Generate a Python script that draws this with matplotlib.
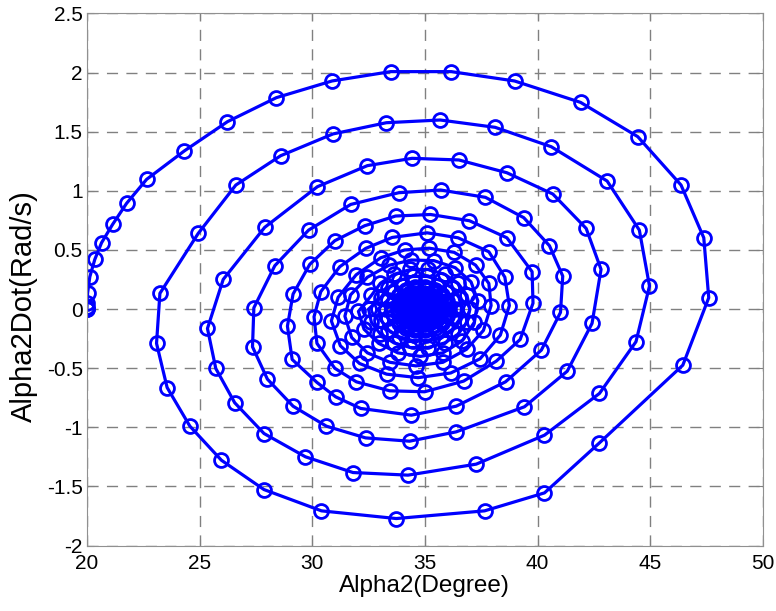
import matplotlib.pyplot as plt
from matplotlib.ticker import MultipleLocator, FuncFormatter

plt.rcParams['font.family'] = ['Liberation Sans', 'DejaVu Sans']

# phase trajectory, loop by loop (clockwise, spiralling in)
alpha_outer = [20.0, 20.0, 20.0, 20.01, 20.03, 20.13, 20.35, 20.65, 21.14, 21.76, 22.65, 24.32,
               26.24, 28.41, 30.88, 33.48, 36.17, 38.98, 41.91, 44.45, 46.37, 47.38, 47.60,
               46.45, 42.75, 40.31, 37.65, 33.73, 30.41, 27.86, 25.97, 24.57, 23.56, 23.09]
rate_outer = [0.0, 0.0, 0.02, 0.055, 0.135, 0.274, 0.420, 0.561, 0.716, 0.894, 1.097, 1.337,
              1.585, 1.788, 1.929, 2.008, 2.008, 1.929, 1.748, 1.458, 1.049, 0.603, 0.096,
              -0.474, -1.131, -1.554, -1.706, -1.771, -1.706, -1.526, -1.278, -0.990, -0.663, -0.290]

alpha_loop2 = [23.24, 24.94, 26.61, 28.60, 30.92, 33.29, 35.68, 38.12, 40.61, 43.09, 44.52, 44.97,
               44.37, 42.75, 40.31, 37.28, 34.25, 31.81, 29.70, 27.86, 26.56, 25.72, 25.35]
rate_loop2 = [0.133, 0.640, 1.049, 1.297, 1.481, 1.576, 1.599, 1.537, 1.373, 1.083, 0.668, 0.195,
              -0.276, -0.713, -1.066, -1.311, -1.404, -1.382, -1.249, -1.052, -0.792, -0.502, -0.164]

alpha_loop3 = [26.05, 27.89, 30.23, 32.45, 34.43, 36.51, 38.64, 40.68, 42.16, 42.82, 42.42, 41.32,
               39.42, 36.39, 34.32, 32.37, 30.63, 29.15, 28.01, 27.35]
rate_loop3 = [0.251, 0.691, 1.035, 1.213, 1.275, 1.261, 1.153, 0.973, 0.682, 0.336, -0.121, -0.525,
              -0.826, -1.038, -1.117, -1.089, -0.990, -0.821, -0.592, -0.319]

alpha_loop4 = [27.41, 28.34, 29.84, 31.71, 33.84, 35.70, 37.69, 39.39, 40.53, 41.12, 41.02, 40.17,
               38.58, 36.39, 34.40, 32.15, 31.04, 30.21, 29.11, 28.90]
rate_loop4 = [0.011, 0.367, 0.668, 0.885, 0.984, 1.007, 0.945, 0.773, 0.536, 0.279, -0.028, -0.347,
              -0.615, -0.821, -0.897, -0.840, -0.742, -0.620, -0.426, -0.144]

alpha_loop5 = [29.15, 29.89, 31.00, 32.33, 33.70, 35.25, 36.98, 38.64, 39.76, 39.80, 39.23, 38.17,
               36.72, 34.99, 33.44, 31.96, 31.00, 30.21, 30.08]
rate_loop5 = [0.127, 0.378, 0.578, 0.705, 0.787, 0.800, 0.747, 0.603, 0.316, 0.050, -0.257, -0.440,
              -0.609, -0.699, -0.691, -0.615, -0.500, -0.290, -0.065]

alpha_loop6 = [30.38, 31.22, 32.37, 33.55, 35.10, 36.47, 37.84, 38.55, 38.75, 38.35, 37.45, 36.15,
               34.70, 33.30, 32.10, 31.25, 30.85]
rate_loop6 = [0.147, 0.358, 0.513, 0.606, 0.645, 0.603, 0.485, 0.27, 0.03, -0.22, -0.42, -0.54,
              -0.58, -0.55, -0.46, -0.31, -0.10]

alpha_loop7 = [31.15, 31.95, 33.04, 34.10, 35.20, 36.30, 37.25, 37.84, 37.94, 37.60, 36.85, 35.80,
               34.60, 33.45, 32.45, 31.75, 31.45]
rate_loop7 = [0.10, 0.29, 0.434, 0.50, 0.515, 0.48, 0.372, 0.217, 0.03, -0.18, -0.34, -0.45,
              -0.48, -0.45, -0.37, -0.24, -0.06]

alpha_loop8 = [31.70, 32.45, 33.40, 34.40, 35.40, 36.35, 37.05, 37.35, 37.20, 36.65, 35.80, 34.80,
               33.80, 32.95, 32.30, 32.05]
rate_loop8 = [0.12, 0.27, 0.37, 0.415, 0.41, 0.35, 0.23, 0.07, -0.11, -0.27, -0.37, -0.40,
              -0.37, -0.29, -0.17, -0.02]

alpha_loop9 = [32.63, 33.03, 33.63, 34.36, 35.14, 35.88, 36.47, 36.87, 37.00, 36.87, 36.47, 35.88,
               35.14, 34.36, 33.63, 33.03, 32.63, 32.50]
rate_loop9 = [0.116, 0.219, 0.294, 0.335, 0.335, 0.294, 0.219, 0.116, 0.0, -0.113, -0.212, -0.286,
              -0.325, -0.325, -0.286, -0.212, -0.113, 0.0]

alpha_loop10 = [33.04, 33.36, 33.86, 34.46, 35.10, 35.71, 36.20, 36.52, 36.63, 36.52, 36.20, 35.71,
                35.10, 34.46, 33.86, 33.36, 33.04, 32.93]
rate_loop10 = [0.096, 0.180, 0.242, 0.276, 0.276, 0.242, 0.180, 0.096, 0.0, -0.092, -0.174, -0.234,
               -0.266, -0.266, -0.234, -0.174, -0.092, 0.0]

alpha_loop11 = [33.37, 33.64, 34.04, 34.54, 35.06, 35.56, 35.96, 36.23, 36.32, 36.23, 35.96, 35.56,
                35.06, 34.54, 34.04, 33.64, 33.37, 33.28]
rate_loop11 = [0.079, 0.148, 0.199, 0.227, 0.227, 0.199, 0.148, 0.079, 0.0, -0.075, -0.141, -0.191,
               -0.217, -0.217, -0.191, -0.141, -0.075, 0.0]

alpha_loop12 = [33.63, 33.84, 34.18, 34.58, 35.02, 35.43, 35.76, 35.98, 36.05, 35.98, 35.76, 35.43,
                35.02, 34.58, 34.18, 33.84, 33.63, 33.55]
rate_loop12 = [0.065, 0.122, 0.165, 0.187, 0.187, 0.165, 0.122, 0.065, 0.0, -0.062, -0.116, -0.156,
               -0.177, -0.177, -0.156, -0.116, -0.062, 0.0]

# dense core: loops 13..19 and the last few points
alpha_core = [33.86, 34.05, 34.33, 34.67, 35.03, 35.38, 35.65, 35.84, 35.90, 35.84, 35.65, 35.38,
              35.03, 34.67, 34.33, 34.05, 33.86, 33.80,
              34.03, 34.18, 34.42, 34.70, 35.00, 35.29, 35.52, 35.67, 35.72, 35.67, 35.52, 35.29,
              35.00, 34.70, 34.42, 34.18, 34.03, 33.98,
              34.17, 34.30, 34.49, 34.72, 34.98, 35.21, 35.40, 35.53, 35.57, 35.53, 35.40, 35.21,
              34.98, 34.72, 34.49, 34.30, 34.17, 34.13,
              34.33, 34.55, 34.85, 35.15, 35.37, 35.45, 35.37, 35.15, 34.85, 34.55, 34.33, 34.25,
              34.43, 34.61, 34.85, 35.09, 35.27, 35.33, 35.27, 35.09, 34.85, 34.61, 34.43, 34.37,
              34.52, 34.66, 34.85, 35.04, 35.18, 35.23, 35.18, 35.04, 34.85, 34.66, 34.52, 34.47,
              34.59, 34.70, 34.85, 35.00, 35.11, 35.15, 35.11, 35.00, 34.85, 34.70, 34.59, 34.55,
              34.65, 34.85, 35.03, 35.00, 34.80, 34.70, 34.85, 34.90]
rate_core = [0.055, 0.103, 0.139, 0.158, 0.158, 0.139, 0.103, 0.055, 0.0, -0.053, -0.100, -0.134,
             -0.153, -0.153, -0.134, -0.100, -0.053, 0.0,
             0.044, 0.084, 0.113, 0.128, 0.128, 0.113, 0.084, 0.044, 0.0, -0.043, -0.081, -0.109,
             -0.124, -0.124, -0.109, -0.081, -0.043, 0.0,
             0.037, 0.069, 0.093, 0.105, 0.105, 0.093, 0.069, 0.037, 0.0, -0.036, -0.067, -0.090,
             -0.102, -0.102, -0.090, -0.067, -0.036, 0.0,
             0.044, 0.076, 0.088, 0.076, 0.044, 0.0, -0.043, -0.074, -0.085, -0.074, -0.043, 0.0,
             0.036, 0.062, 0.072, 0.062, 0.036, 0.0, -0.035, -0.061, -0.070, -0.061, -0.035, 0.0,
             0.029, 0.050, 0.058, 0.050, 0.029, 0.0, -0.028, -0.049, -0.056, -0.049, -0.028, 0.0,
             0.023, 0.040, 0.046, 0.040, 0.023, 0.0, -0.022, -0.039, -0.045, -0.039, -0.022, 0.0,
             0.020, 0.030, 0.015, -0.020, -0.025, 0.0, 0.010, -0.005]

alpha2 = (alpha_outer + alpha_loop2 + alpha_loop3 + alpha_loop4 + alpha_loop5 + alpha_loop6
          + alpha_loop7 + alpha_loop8 + alpha_loop9 + alpha_loop10 + alpha_loop11 + alpha_loop12
          + alpha_core)
alpha2dot = (rate_outer + rate_loop2 + rate_loop3 + rate_loop4 + rate_loop5 + rate_loop6
             + rate_loop7 + rate_loop8 + rate_loop9 + rate_loop10 + rate_loop11 + rate_loop12
             + rate_core)

fig = plt.figure(figsize=(7.76, 6.11), dpi=100)
ax = fig.add_axes([0.112, 0.107, 0.871, 0.871])

ax.plot(alpha2, alpha2dot, color='#0000ff', lw=2.3, marker='o', ms=10,
        mfc='none', mec='#0000ff', mew=2.0)

ax.set_xlim(20, 50)
ax.set_ylim(-2, 2.5)
ax.xaxis.set_major_locator(MultipleLocator(5))
ax.yaxis.set_major_locator(MultipleLocator(0.5))
ax.yaxis.set_major_formatter(FuncFormatter(lambda v, p: '%g' % v))
ax.grid(True, ls=(0, (8, 6)), color='#808080', lw=1.0)
ax.tick_params(direction='in', length=5, color='#808080', labelsize=15,
               top=True, right=True)
ax.tick_params(axis='y', pad=3)
ax.tick_params(axis='x', pad=6)
for s in ax.spines.values():
    s.set_color('#909090')

ax.set_xlabel('Alpha2(Degree)', fontsize=17.5)
ax.xaxis.set_label_coords(0.5, -0.056)
ax.set_ylabel('Alpha2Dot(Rad/s)', fontsize=21)
ax.yaxis.set_label_coords(-0.072, 0.45)

plt.savefig('out.png', dpi=100)
